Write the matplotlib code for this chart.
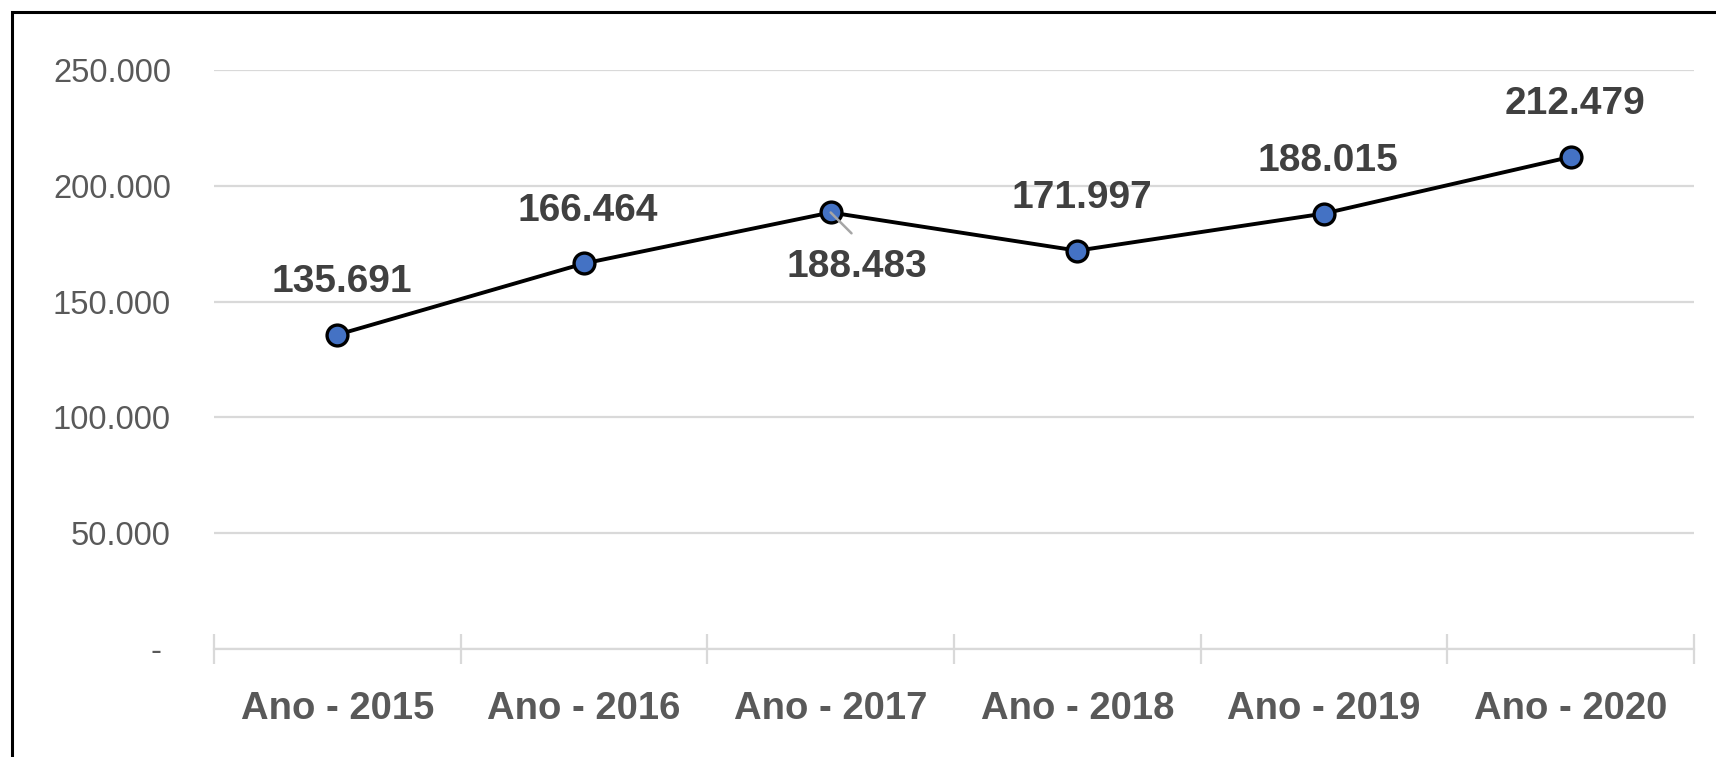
import matplotlib
matplotlib.use('Agg')
import matplotlib.pyplot as plt
from matplotlib.patches import Rectangle
from matplotlib.ticker import FixedLocator

plt.rcParams['font.family'] = ['Liberation Sans Narrow', 'Liberation Sans', 'DejaVu Sans']

categories = ['Ano - 2015', 'Ano - 2016', 'Ano - 2017', 'Ano - 2018', 'Ano - 2019', 'Ano - 2020']
values = [135691, 166464, 188483, 171997, 188015, 212479]
value_labels = ['135.691', '166.464', '188.483', '171.997', '188.015', '212.479']
y_ticks = [0, 50000, 100000, 150000, 200000, 250000]
y_tick_labels = ['- ', '50.000', '100.000', '150.000', '200.000', '250.000']

fig = plt.figure(figsize=(17.16, 7.57), dpi=100)
ax = fig.add_axes([214 / 1716, 1 - 649 / 757, (1694 - 214) / 1716, (649 - 70) / 757])

x = list(range(len(categories)))
ax.plot(x, values, color='black', linewidth=2.8, marker='o', markersize=15,
        markerfacecolor='#4472C4', markeredgecolor='black', markeredgewidth=2.4, zorder=3, clip_on=False)

# data labels
for i, (v, lab) in enumerate(zip(values, value_labels)):
    if i == 2:
        ax.annotate('', xy=(i, v), xytext=(15, -15), textcoords='offset points',
                    arrowprops=dict(arrowstyle='-', color='#a6a6a6', lw=1.8, shrinkA=0, shrinkB=0), zorder=4)
        ax.annotate(lab, xy=(i, v), xytext=(19, -39), textcoords='offset points',
                    ha='center', va='center', fontsize=28, fontweight='bold', color='#404040')
    else:
        ax.annotate(lab, xy=(i, v), xytext=(3, 38), textcoords='offset points',
                    ha='center', va='center', fontsize=28, fontweight='bold', color='#404040')

ax.set_xlim(-0.5, len(categories) - 0.5)
ax.set_ylim(0, 250000)
ax.set_yticks(y_ticks)
ax.set_yticklabels(y_tick_labels)
ax.set_xticks(x)
ax.set_xticklabels(categories)
ax.xaxis.set_minor_locator(FixedLocator([i - 0.5 for i in range(len(categories) + 1)]))

ax.grid(axis='y', color='#d9d9d9', linewidth=1.6)
ax.set_axisbelow(True)
for s in ['top', 'right', 'left']:
    ax.spines[s].set_visible(False)
ax.spines['bottom'].set_color('#d9d9d9')
ax.spines['bottom'].set_linewidth(1.6)

ax.tick_params(axis='y', length=0, pad=31, labelsize=23.5, labelcolor='#595959')
ax.tick_params(axis='x', which='major', length=0, pad=30, labelsize=27.5, labelcolor='#595959')
ax.tick_params(axis='x', which='minor', direction='inout', length=21, width=1.6, color='#d9d9d9')
for t in ax.get_xticklabels():
    t.set_fontweight('bold')

# outer frame
fig.patches.append(Rectangle((12 / 1716, -0.1), 1.2, 1 - 11.5 / 757 + 0.1, transform=fig.transFigure,
                             fill=False, edgecolor='black', linewidth=2.2, zorder=10))

fig.savefig('out.png', dpi=100)
